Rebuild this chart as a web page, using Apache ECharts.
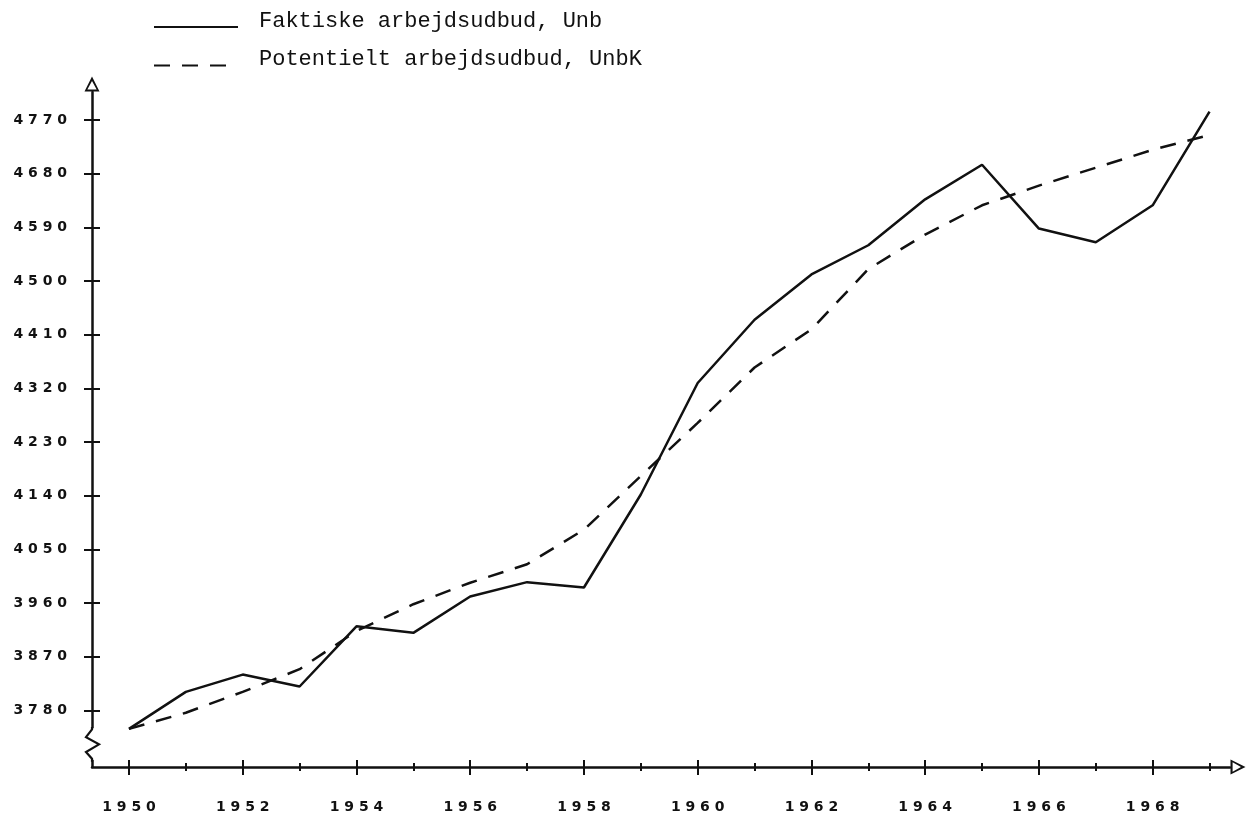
<!DOCTYPE html>
<html>
<head>
<meta charset="utf-8">
<script src="https://cdn.jsdelivr.net/npm/echarts@6/dist/echarts.min.js"></script>
<style>html,body{margin:0;padding:0;background:#fff}#c{width:1248px;height:816px}</style>
</head>
<body>
<div id="c"></div>
<script>
const years = [1950,1951,1952,1953,1954,1955,1956,1957,1958,1959,1960,1961,1962,1963,1964,1965,1966,1967,1968,1969];
const actual = [3749,3811,3840,3820,3921,3910,3971,3995,3986,4142,4329,4435,4511,4560,4637,4695,4588,4565,4627,4784];
const potential = [3749,3776,3811,3849,3913,3958,3994,4025,4083,4173,4262,4355,4419,4520,4578,4627,4660,4690,4720,4745];
const yTicks = [3780,3870,3960,4050,4140,4230,4320,4410,4500,4590,4680,4770];
const xMajor = [1950,1952,1954,1956,1958,1960,1962,1964,1966,1968];
const xMinor = [1951,1953,1955,1957,1959,1961,1963,1965,1967,1969];
const seriesNames = ['Faktiske arbejdsudbud, Unb', 'Potentielt arbejdsudbud, UnbK'];

const X_MIN = 1949.35, X_MAX = 1969.36, Y_MIN = 3685, Y_MAX = 4817;
const INK = '#111';
const openArrow = 'path://M50 0 L100 100 L0 100 Z M50 30 L19 86 L81 86 Z';
const spaced = v => String(v).split('').join(' ');

function xAx(extra) {
  return Object.assign({
    type: 'value', min: X_MIN, max: X_MAX, position: 'bottom', offset: 0,
    splitLine: {show: false}, axisLine: {show: false}, axisLabel: {show: false}, axisTick: {show: false}
  }, extra);
}

const chart = echarts.init(document.getElementById('c'), null, {renderer: 'canvas'});
chart.setOption({
  backgroundColor: '#fff',
  animation: false,
  grid: {left: 92, right: 18, top: 92, bottom: 49, containLabel: false},
  legend: {
    orient: 'vertical', left: 153, top: 10, padding: 0, itemWidth: 84, itemHeight: 14, itemGap: 16,
    selectedMode: false,
    itemStyle: {color: 'rgba(0,0,0,0)', borderWidth: 0, opacity: 0},
    formatter: name => '{t|' + name + '}',
    textStyle: {
      fontFamily: 'Liberation Mono', fontSize: 22, color: INK, padding: [0, 0, 0, 16],
      rich: {t: {fontFamily: 'Liberation Mono', fontSize: 22, color: INK, padding: [0, 0, 12, 0]}}
    },
    data: seriesNames
  },
  xAxis: [
    xAx({
      axisLine: {show: true, lineStyle: {color: INK, width: 2.5}, symbol: ['none', openArrow], symbolSize: [15, 17], symbolOffset: [0, 8]},
      axisTick: {show: true, length: 8, inside: false, customValues: xMajor, lineStyle: {color: INK, width: 2}},
      axisLabel: {show: true, customValues: xMajor, margin: 33, formatter: spaced, color: INK,
        fontFamily: 'DejaVu Sans', fontWeight: 'bold', fontSize: 14}
    }),
    xAx({axisTick: {show: true, length: 7, inside: true, customValues: xMajor, lineStyle: {color: INK, width: 2}}}),
    xAx({axisTick: {show: true, length: 4, inside: false, customValues: xMinor, lineStyle: {color: INK, width: 2}}}),
    xAx({axisTick: {show: true, length: 4, inside: true, customValues: xMinor, lineStyle: {color: INK, width: 2}}})
  ],
  yAxis: [
    {
      type: 'value', min: Y_MIN, max: Y_MAX, position: 'left', offset: 0,
      splitLine: {show: false},
      axisLine: {show: true, lineStyle: {color: INK, width: 2.5}, symbol: ['none', openArrow], symbolSize: [15, 17], symbolOffset: [0, 8]},
      axisTick: {show: true, length: 8, inside: false, customValues: yTicks, lineStyle: {color: INK, width: 2}},
      axisLabel: {show: true, customValues: yTicks, margin: 25, formatter: spaced, color: INK,
        fontFamily: 'DejaVu Sans', fontWeight: 'bold', fontSize: 14}
    },
    {
      type: 'value', min: Y_MIN, max: Y_MAX, position: 'left', offset: 0,
      splitLine: {show: false}, axisLine: {show: false}, axisLabel: {show: false},
      axisTick: {show: true, length: 8, inside: true, customValues: yTicks, lineStyle: {color: INK, width: 2}}
    }
  ],
  series: [
    {
      name: seriesNames[0], type: 'line', symbol: 'none', showSymbol: false,
      xAxisIndex: 0, yAxisIndex: 0,
      lineStyle: {color: INK, width: 2.5, type: 'solid'},
      itemStyle: {color: INK},
      data: years.map((y, i) => [y, actual[i]])
    },
    {
      name: seriesNames[1], type: 'line', symbol: 'none', showSymbol: false,
      xAxisIndex: 0, yAxisIndex: 0,
      lineStyle: {color: INK, width: 2.5, type: [16, 12]},
      itemStyle: {color: INK},
      data: years.map((y, i) => [y, potential[i]])
    }
  ]
});

// axis break (zigzag) on the y axis, positioned through the axis scales
const axX = chart.convertToPixel({xAxisIndex: 0}, X_MIN);
const py = v => chart.convertToPixel({yAxisIndex: 0}, v);
const brTop = py(3750), brBot = py(3697);
chart.setOption({
  graphic: [
    {type: 'rect', z: 100, shape: {x: axX - 3, y: brTop, width: 6, height: brBot - brTop}, style: {fill: '#fff'}},
    {type: 'polyline', z: 101, shape: {points: [
      [axX, py(3752)], [axX, py(3748)], [axX - 6, py(3735)], [axX + 7, py(3723)], [axX - 6, py(3710)], [axX, py(3699)], [axX, py(3694)]
    ]}, style: {stroke: INK, lineWidth: 2.2, fill: null}}
  ]
});
</script>
</body>
</html>
